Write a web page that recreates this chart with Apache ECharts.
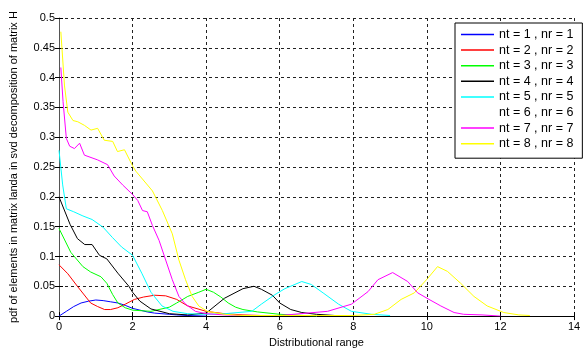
<!DOCTYPE html>
<html>
<head>
<meta charset="utf-8">
<script src="https://cdn.jsdelivr.net/npm/echarts@6/dist/echarts.min.js"></script>
<style>html,body{margin:0;padding:0;background:#fff}#c{width:588px;height:353px}</style>
</head>
<body>
<div id="c"></div>
<script>
var seriesNames = ['nt = 1 , nr = 1','nt = 2 , nr = 2','nt = 3 , nr = 3','nt = 4 , nr = 4','nt = 5 , nr = 5','nt = 6 , nr = 6','nt = 7 , nr = 7','nt = 8 , nr = 8'];
var seriesColors = ['#0000ff','#ff0000','#00ff00','#000000','#00ffff','#ffffff','#ff00ff','#ffff00'];
var xTicks = [0,2,4,6,8,10,12,14];

var x1 = [0,0.2,0.4,0.6,0.8,1.0,1.2,1.4,1.6,1.8,2.0,2.2,2.4,2.6,2.8,3.0,3.2,3.5,4.0];
var y1 = [0,0.008,0.016,0.022,0.025,0.027,0.026,0.024,0.022,0.018,0.013,0.010,0.007,0.005,0.004,0.003,0.002,0.001,0];

var x2 = [0,0.24,0.5,0.86,1.05,1.24,1.4,1.6,1.8,2.05,2.3,2.6,2.9,3.2,3.5,4.0,4.5,5.0,5.5];
var y2 = [0.086,0.071,0.050,0.022,0.016,0.011,0.011,0.014,0.020,0.028,0.032,0.035,0.034,0.028,0.017,0.008,0.004,0.002,0.001];

var x3 = [0,0.32,0.65,0.86,1.14,1.3,1.46,1.6,1.8,2.0,2.5,3.0,3.2,3.5,3.8,4.0,4.2,4.4,4.6,4.8,5.0,5.4,6.0,7.0];
var y3 = [0.147,0.107,0.083,0.074,0.066,0.055,0.036,0.022,0.014,0.010,0.008,0.015,0.022,0.033,0.040,0.045,0.040,0.032,0.022,0.015,0.011,0.007,0.003,0];

var x4 = [0,0.3,0.5,0.7,0.9,1.1,1.3,1.6,1.9,2.0,2.2,2.5,3.0,3.5,4.0,4.5,5.0,5.3,5.5,5.8,6.0,6.3,6.6,7.0,7.5];
var y4 = [0.200,0.154,0.130,0.120,0.120,0.102,0.096,0.072,0.050,0.040,0.025,0.012,0.004,0.002,0.005,0.030,0.046,0.050,0.045,0.035,0.022,0.011,0.006,0.003,0.001];

var x5 = [0,0.1,0.2,0.4,0.65,0.9,1.2,1.45,1.7,2.0,2.25,2.5,2.8,3.1,3.5,4.0,4.5,5.24,5.5,5.87,6.14,6.6,6.86,7.2,7.6,7.95,8.5,9.0];
var y5 = [0.278,0.220,0.180,0.175,0.168,0.162,0.149,0.132,0.116,0.102,0.072,0.040,0.017,0.008,0.004,0.003,0.004,0.008,0.020,0.036,0.046,0.058,0.053,0.038,0.020,0.008,0.003,0.001];

var x6 = [0,0.3,1.0,2.0,3.0,3.5,4.0,5.0,6.0,7.0,7.5,8.0,8.5,9.0,9.5,10.0];
var y6 = [0.350,0.240,0.200,0.150,0.050,0.015,0.004,0.002,0.010,0.050,0.065,0.060,0.035,0.012,0.004,0.001];

var x7 = [0.05,0.11,0.2,0.29,0.42,0.56,0.69,1.05,1.32,1.5,1.73,2.0,2.14,2.27,2.4,2.54,2.72,2.9,3.08,3.26,3.44,3.71,4.0,4.5,5.0,6.0,7.3,7.95,8.4,8.67,9.07,9.48,9.75,10.06,10.38,10.74,11.0,11.5,12.0];
var y7 = [0.417,0.360,0.298,0.285,0.281,0.290,0.270,0.262,0.254,0.235,0.220,0.204,0.194,0.177,0.175,0.152,0.127,0.094,0.061,0.033,0.020,0.008,0.004,0.002,0.001,0.001,0.008,0.020,0.041,0.061,0.073,0.058,0.039,0.028,0.017,0.006,0.003,0.002,0];

var x8 = [0.05,0.15,0.24,0.38,0.51,0.69,0.87,1.05,1.23,1.46,1.59,1.78,2.0,2.09,2.54,2.81,3.08,3.26,3.44,3.62,3.8,4.03,4.5,5.0,6.0,7.0,8.0,8.57,8.94,9.3,9.66,10.02,10.29,10.56,10.92,11.28,11.64,12.09,12.5,12.8];
var y8 = [0.477,0.386,0.342,0.328,0.326,0.320,0.312,0.315,0.295,0.293,0.276,0.279,0.252,0.243,0.210,0.177,0.138,0.094,0.061,0.033,0.017,0.008,0.003,0.001,0.001,0.001,0.001,0.003,0.011,0.028,0.039,0.063,0.083,0.075,0.055,0.033,0.017,0.006,0.002,0.001];

var xs = [x1,x2,x3,x4,x5,x6,x7,x8];
var ys = [y1,y2,y3,y4,y5,y6,y7,y8];

function pairs(a, b) { return a.map(function (v, i) { return [v, b[i]]; }); }

var FONT = 'Arial, "Liberation Sans", sans-serif';
var series = seriesNames.map(function (n, i) {
  return {
    name: n, type: 'line', showSymbol: false, symbol: 'none',
    data: pairs(xs[i], ys[i]),
    lineStyle: { color: seriesColors[i], width: 1 },
    itemStyle: { color: seriesColors[i] },
    z: i === 5 ? -1 : 2,
    animation: false
  };
});

var chart = echarts.init(document.getElementById('c'), null, { renderer: 'canvas' });
chart.setOption({
  animation: false,
  backgroundColor: '#ffffff',
  grid: { left: 56, right: 14, top: 18, bottom: 33, show: false },
  legend: {
    orient: 'vertical', left: 455, top: 23,
    backgroundColor: '#ffffff', borderColor: '#000', borderWidth: 1,
    padding: [5, 9, 8, 6], itemGap: 2.6,
    icon: 'rect', itemWidth: 33, itemHeight: 1.5,
    textStyle: { fontFamily: FONT, fontSize: 12.5, color: '#000' },
    data: seriesNames.map(function (n, i) { return { name: n, itemStyle: { color: seriesColors[i] } }; })
  },
  xAxis: [{
    type: 'value', min: 0, max: 14, interval: 2,
    name: 'Distributional range', nameLocation: 'middle', nameGap: 17,
    nameTextStyle: { fontFamily: FONT, fontSize: 11, color: '#000' },
    axisLine: { onZero: false, lineStyle: { color: '#000', width: 1 } },
    axisTick: { inside: true, length: 4, lineStyle: { color: '#000' } },
    axisLabel: { fontFamily: FONT, fontSize: 11, color: '#000', margin: 5 },
    splitLine: { show: true, lineStyle: { color: '#222', type: [3, 3], width: 1 } }
  }, {
    type: 'value', min: 0, max: 14, interval: 2, position: 'top',
    axisLine: { show: false }, axisLabel: { show: false },
    axisTick: { inside: true, length: 4, lineStyle: { color: '#000' } },
    splitLine: { show: false }
  }],
  yAxis: [{
    type: 'value', min: 0, max: 0.5, interval: 0.05,
    name: 'pdf of elements in matrix landa in svd decomposition of matrix H',
    nameLocation: 'middle', nameGap: 40, nameRotate: 90,
    nameTextStyle: { fontFamily: FONT, fontSize: 11, color: '#000' },
    axisLine: { onZero: false, lineStyle: { color: '#555', width: 1 } },
    axisTick: { inside: true, length: 4, lineStyle: { color: '#000' } },
    axisLabel: { fontFamily: FONT, fontSize: 11, color: '#000', margin: 4 },
    splitLine: { show: true, lineStyle: { color: '#222', type: [3, 3], width: 1 } }
  }, {
    type: 'value', min: 0, max: 0.5, interval: 0.05, position: 'right',
    axisLine: { show: false }, axisLabel: { show: false },
    axisTick: { inside: true, length: 4, lineStyle: { color: '#000' } },
    splitLine: { show: false }
  }],
  series: series
});
</script>
</body>
</html>
